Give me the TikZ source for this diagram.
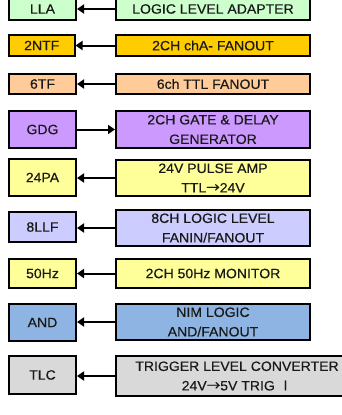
\documentclass[tikz,border=0pt]{standalone}
\usepackage{fontspec}
\setmainfont{Liberation Sans}[FakeStretch=1.04,FakeBold=0.4]
\newfontfamily\cjkfont{Noto Sans CJK JP}[FakeBold=0.3]
\usetikzlibrary{arrows.meta}
\definecolor{cLLA}{HTML}{CCFFCC}
\definecolor{cNTF}{HTML}{FFCC00}
\definecolor{cTF}{HTML}{FFCC99}
\definecolor{cGDG}{HTML}{CC99FF}
\definecolor{cPA}{HTML}{FFFF99}
\definecolor{cLLF}{HTML}{CCCCFF}
\definecolor{cAND}{HTML}{8DB4E2}
\definecolor{cTLC}{HTML}{D9D9D9}
\tikzset{
  box/.style={draw=black, line width=2pt, inner sep=0pt, align=center,
    font=\fontsize{13.5}{19.5}\selectfont, text=black!90},
  lbox/.style={box, minimum width=67pt},
  rbox/.style={box, minimum width=194pt},
  arr/.style={line width=2pt, -{Triangle[length=7pt,width=9pt]}}
}
\newcommand{\rarr}{{\cjkfont →}}
\begin{document}
\begin{tikzpicture}[x=1pt,y=-1pt]
\useasboundingbox (0,0) rectangle (342,415);
% row 1
\node[lbox, fill=cLLA, minimum height=22pt] (l1) at (42.5,9) {LLA};
\node[rbox, fill=cLLA, minimum height=22pt] (r1) at (213,9) {LOGIC LEVEL ADAPTER};
% row 2
\node[lbox, fill=cNTF, minimum height=21pt, minimum width=65.5pt] (l2) at (41.75,45.5) {2NTF};
\node[rbox, fill=cNTF, minimum height=21pt] (r2) at (213,45.5) {2CH chA- FANOUT};
% row 3
\node[lbox, fill=cTF, minimum height=20pt] (l3) at (42.5,84) {6TF};
\node[rbox, fill=cTF, minimum height=20pt] (r3) at (213,84) {6ch TTL FANOUT};
% row 4
\node[lbox, fill=cGDG, minimum height=37pt] (l4) at (42.5,129.5) {GDG};
\node[rbox, fill=cGDG, minimum height=37pt] (r4) at (213,129.5) {2CH GATE \& DELAY\\GENERATOR};
% row 5
\node[lbox, fill=cPA, minimum height=37pt] (l5) at (42.5,177.5) {24PA};
\node[rbox, fill=cPA, minimum height=36pt] (r5) at (213,178) {24V PULSE AMP\\TTL\rarr24V};
% row 6
\node[lbox, fill=cLLF, minimum height=30pt] (l6) at (42.5,227) {8LLF};
\node[rbox, fill=cLLF, minimum height=36pt] (r6) at (213,228) {8CH LOGIC LEVEL\\FANIN/FANOUT};
% row 7
\node[lbox, fill=cPA, minimum height=29pt] (l7) at (42.5,273.5) {50Hz};
\node[rbox, fill=cPA, minimum height=29pt] (r7) at (213,273.5) {2CH 50Hz MONITOR};
% row 8
\node[lbox, fill=cAND, minimum height=37pt] (l8) at (42.5,322.5) {AND};
\node[rbox, fill=cAND, minimum height=36pt] (r8) at (213,322) {NIM LOGIC\\AND/FANOUT};
% row 9
\node[lbox, fill=cTLC, minimum height=38pt] (l9) at (42.5,375) {TLC};
\node[rbox, fill=cTLC, minimum height=40pt, minimum width=242pt] (r9) at (237,376) {TRIGGER LEVEL CONVERTER\\24V\rarr5V TRIG {\cjkfont Ⅰ}};
% arrows
\draw[arr] (r1.west) -- (r1.west -| l1.east);
\draw[arr] (r2.west) -- (r2.west -| l2.east);
\draw[arr] (r3.west) -- (r3.west -| l3.east);
\draw[arr] (l4.east) -- (l4.east -| r4.west);
\draw[arr] (r5.west) -- (r5.west -| l5.east);
\draw[arr] (r6.west) -- (r6.west -| l6.east);
\draw[arr] (r7.west) -- (r7.west -| l7.east);
\draw[arr] (r8.west) -- (r8.west -| l8.east);
\draw[arr] (r9.west) -- (r9.west -| l9.east);
\end{tikzpicture}
\end{document}
